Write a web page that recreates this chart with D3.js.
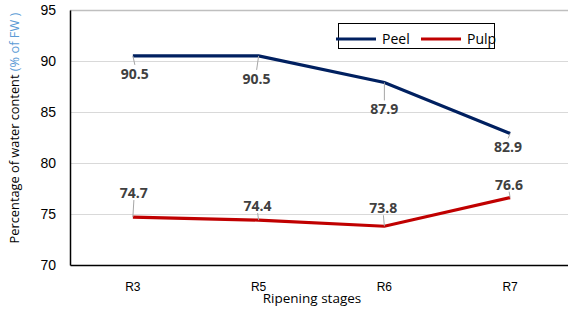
<!DOCTYPE html>
<html>
<head>
<meta charset="utf-8">
<script src="https://cdn.jsdelivr.net/npm/d3@7"></script>
<style>
  body { margin: 0; background: #fff; }
  svg { display: block; font-family: "Open Sans", "Liberation Sans", sans-serif; }
</style>
</head>
<body>
<div id="chart"></div>
<script>
// data
const stages = ['R3', 'R5', 'R6', 'R7'];
const peel = [90.5, 90.5, 87.9, 82.9];
const pulp = [74.7, 74.4, 73.8, 76.6];
const yTicks = [70, 75, 80, 85, 90, 95];

// label placement (px offset from point)
const peelLabelShift = [[2, 18], [-2, 23], [0, 27], [-2, 14]];
const pulpLabelShift = [[1, -24], [-1, -14], [-1, -18], [-1, -13]];

const width = 568, height = 310;
const margin = { top: 10, right: -5, bottom: 45, left: 70 };

const svg = d3.select('#chart').append('svg')
    .attr('width', width)
    .attr('height', height);

const x = d3.scaleBand()
    .domain(stages)
    .range([margin.left, width - margin.right]);

const y = d3.scaleLinear()
    .domain([70, 95])
    .range([height - margin.bottom, margin.top]);

// gridlines
svg.append('g')
    .selectAll('line')
    .data(yTicks.slice(1))
    .join('line')
    .attr('x1', margin.left)
    .attr('x2', width)
    .attr('y1', d => Math.round(y(d)) + 0.5)
    .attr('y2', d => Math.round(y(d)) + 0.5)
    .attr('stroke', d => d === 95 ? '#bfbfbf' : '#d9d9d9')
    .attr('stroke-width', d => d === 95 ? 1.5 : 1);

// axes
const yAxis = svg.append('g')
    .attr('transform', `translate(${margin.left},0)`)
    .call(d3.axisLeft(y).tickValues(yTicks).tickSize(0).tickPadding(14));
yAxis.select('.domain').attr('stroke', '#000').attr('stroke-width', 1.5);
yAxis.selectAll('text').attr('font-size', 14).attr('fill', '#000');

const xAxis = svg.append('g')
    .attr('transform', `translate(0,${y(70)})`)
    .call(d3.axisBottom(x).tickSize(0).tickPadding(17));
xAxis.select('.domain').attr('stroke', '#000').attr('stroke-width', 1.5);
xAxis.selectAll('text').attr('font-size', 12).attr('fill', '#000');

// axis titles
svg.append('text')
    .attr('x', 312)
    .attr('y', 303)
    .attr('text-anchor', 'middle')
    .attr('font-size', 13.5)
    .attr('fill', '#000')
    .text('Ripening stages');

const yTitle = svg.append('text')
    .attr('transform', `translate(19,${128}) rotate(-90)`)
    .attr('text-anchor', 'middle')
    .attr('font-size', 12.8)
    .attr('fill', '#000');
yTitle.append('tspan').text('Percentage of water content ');
yTitle.append('tspan').attr('fill', '#5b9bd5').text('(% of FW )');

// lines
const line = d3.line()
    .x((d, i) => x(stages[i]) + x.bandwidth() / 2)
    .y(d => y(d));

const series = [
    { name: 'Peel', values: peel, color: '#002060', shift: peelLabelShift },
    { name: 'Pulp', values: pulp, color: '#c00000', shift: pulpLabelShift }
];

series.forEach(s => {
    svg.append('path')
        .datum(s.values)
        .attr('d', line)
        .attr('fill', 'none')
        .attr('stroke', s.color)
        .attr('stroke-width', 3.2);

    const lbl = svg.append('g')
        .selectAll('g')
        .data(s.values)
        .join('g');

    // leader lines
    lbl.append('line')
        .attr('x1', (d, i) => x(stages[i]) + x.bandwidth() / 2)
        .attr('y1', d => y(d))
        .attr('x2', (d, i) => x(stages[i]) + x.bandwidth() / 2 + s.shift[i][0])
        .attr('y2', (d, i) => y(d) + s.shift[i][1] + (s.shift[i][1] > 0 ? -9 : 7))
        .attr('stroke', '#a6a6a6')
        .attr('stroke-width', 1);

    lbl.append('text')
        .attr('x', (d, i) => x(stages[i]) + x.bandwidth() / 2 + s.shift[i][0])
        .attr('y', (d, i) => y(d) + s.shift[i][1])
        .attr('dy', '0.35em')
        .attr('text-anchor', 'middle')
        .attr('font-size', 14)
        .attr('font-weight', 'bold')
        .attr('fill', '#404040')
        .text(d => d3.format('.1f')(d));
});

// legend
const legend = svg.append('g');
legend.append('rect')
    .attr('x', 338.5)
    .attr('y', 23.5)
    .attr('width', 156)
    .attr('height', 25)
    .attr('fill', '#fff')
    .attr('stroke', '#000')
    .attr('stroke-width', 1);

const legendX = [336, 421];
series.forEach((s, i) => {
    legend.append('line')
        .attr('x1', legendX[i])
        .attr('x2', legendX[i] + 40)
        .attr('y1', 39)
        .attr('y2', 39)
        .attr('stroke', s.color)
        .attr('stroke-width', 3.2);
    legend.append('text')
        .attr('x', legendX[i] + 46)
        .attr('y', 39)
        .attr('dy', '0.35em')
        .attr('font-size', 14)
        .attr('fill', '#000')
        .text(s.name);
});
</script>
</body>
</html>
